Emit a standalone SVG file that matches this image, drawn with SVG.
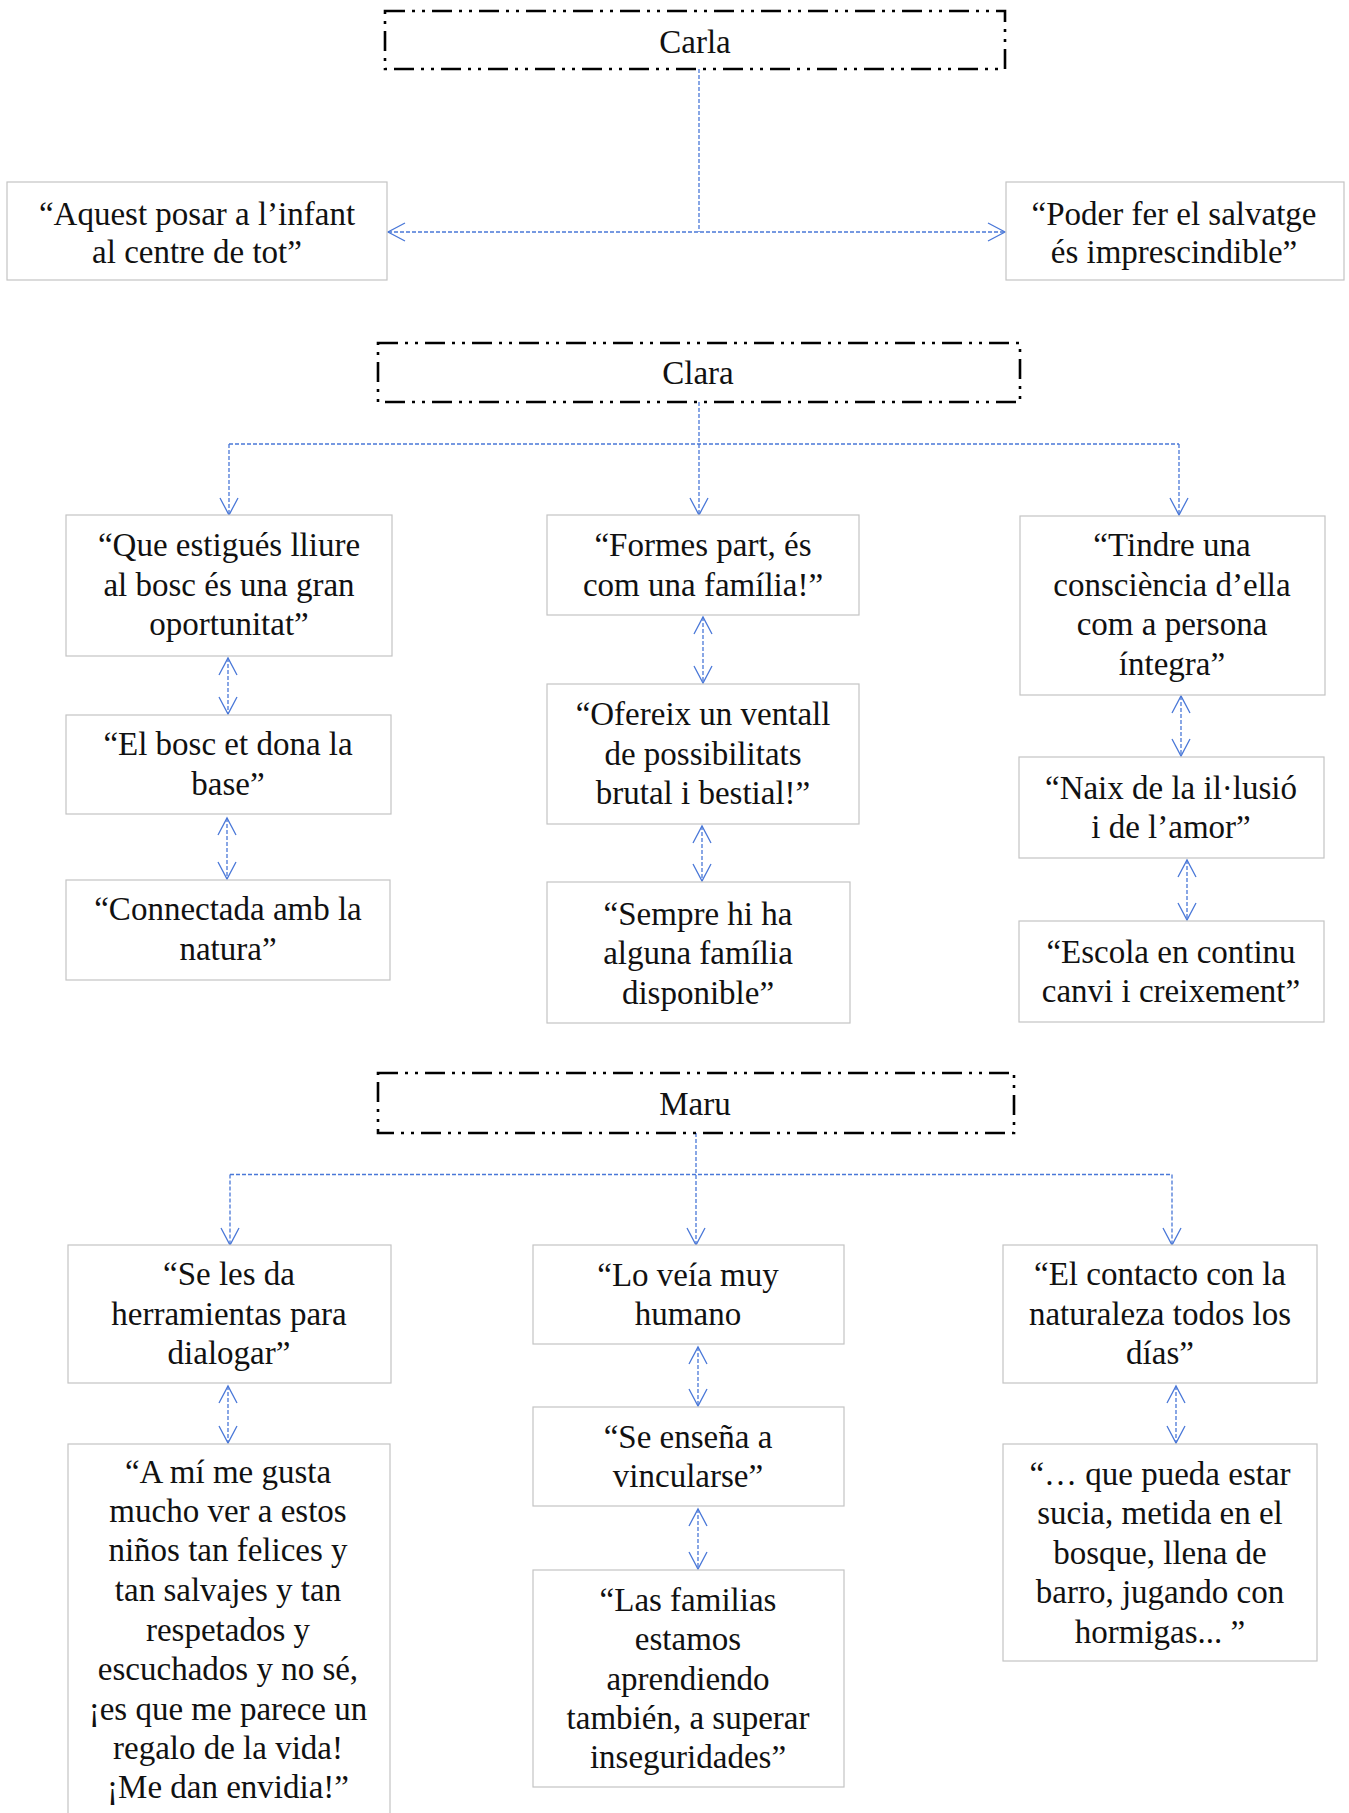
<svg xmlns="http://www.w3.org/2000/svg" width="1349" height="1813" viewBox="0 0 1349 1813">
<style>
.bg{fill:#ffffff}
.head{fill:#ffffff;stroke:#000000;stroke-width:2.6;stroke-dasharray:20 7 3 7 3 7}
.box{fill:#ffffff;stroke:#c4c4c4;stroke-width:1.2}
.t{font-family:"Liberation Serif","Times New Roman",serif;font-size:33px;fill:#111111;text-anchor:middle}
.c{fill:none;stroke:#4a78d8;stroke-width:1.3;stroke-dasharray:4 2}
</style>
<defs>
<marker id="ah" viewBox="-20 -12 24 24" markerWidth="24" markerHeight="24" refX="0" refY="0" orient="auto-start-reverse" markerUnits="userSpaceOnUse">
<path d="M-17,-9 L0,0 L-17,9" fill="none" stroke="#4a78d8" stroke-width="1.3"/>
</marker>
</defs>
<rect class="bg" x="0" y="0" width="1349" height="1813"/>

<g id="connectors">
<line class="c" x1="699" y1="69" x2="699" y2="232"/>
<line class="c" x1="388" y1="232" x2="1005" y2="232" marker-start="url(#ah)" marker-end="url(#ah)"/>
<line class="c" x1="699" y1="402" x2="699" y2="515" marker-end="url(#ah)"/>
<line class="c" x1="229" y1="444" x2="1179" y2="444"/>
<line class="c" x1="229" y1="444" x2="229" y2="515" marker-end="url(#ah)"/>
<line class="c" x1="1179" y1="444" x2="1179" y2="515" marker-end="url(#ah)"/>
<line class="c" x1="228" y1="658" x2="228" y2="714" marker-start="url(#ah)" marker-end="url(#ah)"/>
<line class="c" x1="227" y1="818" x2="227" y2="879" marker-start="url(#ah)" marker-end="url(#ah)"/>
<line class="c" x1="703" y1="617" x2="703" y2="683" marker-start="url(#ah)" marker-end="url(#ah)"/>
<line class="c" x1="702" y1="826" x2="702" y2="881" marker-start="url(#ah)" marker-end="url(#ah)"/>
<line class="c" x1="1181" y1="696" x2="1181" y2="756" marker-start="url(#ah)" marker-end="url(#ah)"/>
<line class="c" x1="1187" y1="860" x2="1187" y2="920" marker-start="url(#ah)" marker-end="url(#ah)"/>
<line class="c" x1="696" y1="1133" x2="696" y2="1245" marker-end="url(#ah)"/>
<line class="c" x1="230" y1="1174.5" x2="1172" y2="1174.5"/>
<line class="c" x1="230" y1="1174.5" x2="230" y2="1245" marker-end="url(#ah)"/>
<line class="c" x1="1172" y1="1174.5" x2="1172" y2="1245" marker-end="url(#ah)"/>
<line class="c" x1="228" y1="1386" x2="228" y2="1443" marker-start="url(#ah)" marker-end="url(#ah)"/>
<line class="c" x1="698" y1="1347" x2="698" y2="1406" marker-start="url(#ah)" marker-end="url(#ah)"/>
<line class="c" x1="698" y1="1509" x2="698" y2="1569" marker-start="url(#ah)" marker-end="url(#ah)"/>
<line class="c" x1="1176" y1="1386" x2="1176" y2="1443" marker-start="url(#ah)" marker-end="url(#ah)"/>
</g>

<g id="carla">
<rect class="head" x="385" y="11" width="620" height="58"/>
<text class="t" x="695" y="53">Carla</text>
</g>
<g id="carla-1">
<rect class="box" x="7" y="182" width="380" height="98"/>
<text class="t" x="197" y="225">“Aquest posar a l’infant</text>
<text class="t" x="197" y="263">al centre de tot”</text>
</g>
<g id="carla-2">
<rect class="box" x="1006" y="182" width="338" height="98"/>
<text class="t" x="1174" y="225">“Poder fer el salvatge</text>
<text class="t" x="1174" y="263">és imprescindible”</text>
</g>

<g id="clara">
<rect class="head" x="378" y="343" width="642" height="59"/>
<text class="t" x="698" y="384">Clara</text>
</g>
<g id="clara-a1">
<rect class="box" x="66" y="515" width="326" height="141"/>
<text class="t" x="229" y="556">“Que estigués lliure</text>
<text class="t" x="229" y="596">al bosc és una gran</text>
<text class="t" x="229" y="635">oportunitat”</text>
</g>
<g id="clara-a2">
<rect class="box" x="66" y="715" width="325" height="99"/>
<text class="t" x="228" y="755">“El bosc et dona la</text>
<text class="t" x="228" y="795">base”</text>
</g>
<g id="clara-a3">
<rect class="box" x="66" y="880" width="324" height="100"/>
<text class="t" x="228" y="920">“Connectada amb la</text>
<text class="t" x="228" y="960">natura”</text>
</g>
<g id="clara-b1">
<rect class="box" x="547" y="515" width="312" height="100"/>
<text class="t" x="703" y="556">“Formes part, és</text>
<text class="t" x="703" y="596">com una família!”</text>
</g>
<g id="clara-b2">
<rect class="box" x="547" y="684" width="312" height="140"/>
<text class="t" x="703" y="725">“Ofereix un ventall</text>
<text class="t" x="703" y="765">de possibilitats</text>
<text class="t" x="703" y="804">brutal i bestial!”</text>
</g>
<g id="clara-b3">
<rect class="box" x="547" y="882" width="303" height="141"/>
<text class="t" x="698" y="925">“Sempre hi ha</text>
<text class="t" x="698" y="964">alguna família</text>
<text class="t" x="698" y="1004">disponible”</text>
</g>
<g id="clara-c1">
<rect class="box" x="1020" y="516" width="305" height="179"/>
<text class="t" x="1172" y="556">“Tindre una</text>
<text class="t" x="1172" y="596">consciència d’ella</text>
<text class="t" x="1172" y="635">com a persona</text>
<text class="t" x="1172" y="675">íntegra”</text>
</g>
<g id="clara-c2">
<rect class="box" x="1019" y="757" width="305" height="101"/>
<text class="t" x="1171" y="799">“Naix de la il·lusió</text>
<text class="t" x="1171" y="838">i de l’amor”</text>
</g>
<g id="clara-c3">
<rect class="box" x="1019" y="921" width="305" height="101"/>
<text class="t" x="1171" y="963">“Escola en continu</text>
<text class="t" x="1171" y="1002">canvi i creixement”</text>
</g>

<g id="maru">
<rect class="head" x="378" y="1073" width="636" height="60"/>
<text class="t" x="695" y="1115">Maru</text>
</g>
<g id="maru-d1">
<rect class="box" x="68" y="1245" width="323" height="138"/>
<text class="t" x="229" y="1285">“Se les da</text>
<text class="t" x="229" y="1325">herramientas para</text>
<text class="t" x="229" y="1364">dialogar”</text>
</g>
<g id="maru-d2">
<rect class="box" x="68" y="1444" width="322" height="420"/>
<text class="t" x="228" y="1483">“A mí me gusta</text>
<text class="t" x="228" y="1522">mucho ver a estos</text>
<text class="t" x="228" y="1561">niños tan felices y</text>
<text class="t" x="228" y="1601">tan salvajes y tan</text>
<text class="t" x="228" y="1641">respetados y</text>
<text class="t" x="228" y="1680">escuchados y no sé,</text>
<text class="t" x="228" y="1720">¡es que me parece un</text>
<text class="t" x="228" y="1759">regalo de la vida!</text>
<text class="t" x="228" y="1798">¡Me dan envidia!”</text>
</g>
<g id="maru-e1">
<rect class="box" x="533" y="1245" width="311" height="99"/>
<text class="t" x="688" y="1286">“Lo veía muy</text>
<text class="t" x="688" y="1325">humano</text>
</g>
<g id="maru-e2">
<rect class="box" x="533" y="1407" width="311" height="99"/>
<text class="t" x="688" y="1448">“Se enseña a</text>
<text class="t" x="688" y="1487">vincularse”</text>
</g>
<g id="maru-e3">
<rect class="box" x="533" y="1570" width="311" height="217"/>
<text class="t" x="688" y="1611">“Las familias</text>
<text class="t" x="688" y="1650">estamos</text>
<text class="t" x="688" y="1690">aprendiendo</text>
<text class="t" x="688" y="1729">también, a superar</text>
<text class="t" x="688" y="1768">inseguridades”</text>
</g>
<g id="maru-f1">
<rect class="box" x="1003" y="1245" width="314" height="138"/>
<text class="t" x="1160" y="1285">“El contacto con la</text>
<text class="t" x="1160" y="1325">naturaleza todos los</text>
<text class="t" x="1160" y="1364">días”</text>
</g>
<g id="maru-f2">
<rect class="box" x="1003" y="1444" width="314" height="217"/>
<text class="t" x="1160" y="1485">“… que pueda estar</text>
<text class="t" x="1160" y="1524">sucia, metida en el</text>
<text class="t" x="1160" y="1564">bosque, llena de</text>
<text class="t" x="1160" y="1603">barro, jugando con</text>
<text class="t" x="1160" y="1643">hormigas... ”</text>
</g>
</svg>
